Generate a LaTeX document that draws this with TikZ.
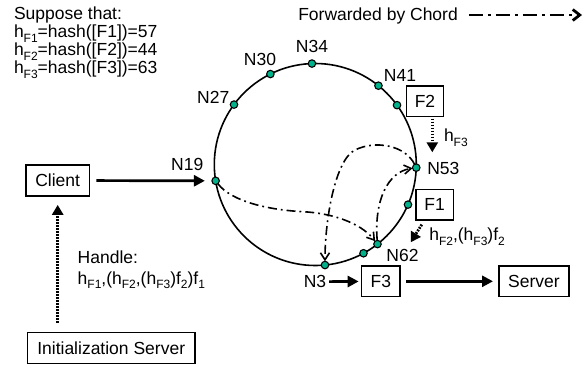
\documentclass[tikz,border=0pt]{standalone}
\usepackage{fontspec}
\setmainfont{Liberation Sans}
\usetikzlibrary{arrows.meta,calc}
\definecolor{nodegreen}{RGB}{0,178,140}
\newcommand\sbs[1]{\raisebox{-4.5pt}{\fontsize{12}{12}\selectfont #1}}
\begin{document}
\begin{tikzpicture}[x=1pt,y=-1pt,
  font=\fontsize{17.5}{21}\selectfont,
  box/.style={draw, line width=1.6pt, minimum height=30.7pt, inner sep=0pt, outer sep=0pt},
  ringdot/.style={circle, draw, fill=nodegreen, line width=1.1pt, minimum size=7.5pt, inner sep=0pt, outer sep=0pt},
  lbl/.style={inner sep=0pt, outer sep=0pt},
  chord/.style={line width=1.6pt, dash pattern=on 9pt off 4pt on 1.8pt off 4pt, -{Straight Barb[length=7pt,width=9pt]}},
  legendarrow/.style={line width=2.8pt, dash pattern=on 14pt off 5pt on 3pt off 5pt, -{Straight Barb[length=7pt,width=11pt]}},
  solidarrow/.style={line width=2.7pt, -{Triangle[length=11pt,width=11pt]}},
  dotarrow/.style={line width=2.8pt, dash pattern=on 1.8pt off 1.2pt, -{Triangle[length=10pt,width=11pt]}}]
\useasboundingbox (0,0) rectangle (587,365);

% ring
\coordinate (c) at (315.3,164.5);
\draw[line width=1.6pt] (c) circle[radius=101];

% chord forwarding (drawn under the dots)
\node[ringdot] (n34) at ($(c)+(-91.9:101)$) {};
\node[ringdot] (n30) at ($(c)+(-116.4:101)$) {};
\node[ringdot] (n27) at ($(c)+(-143.6:101)$) {};
\node[ringdot] (n41) at ($(c)+(-51.3:101)$) {};
\node[ringdot] (nf2) at ($(c)+(-36:101)$) {};
\node[ringdot] (n53) at ($(c)+(1.8:101)$) {};
\node[ringdot] (nf1) at ($(c)+(23.4:101)$) {};
\node[ringdot] (n62) at ($(c)+(52:101)$) {};
\node[ringdot] (nx)  at ($(c)+(61.5:101)$) {};
\node[ringdot] (n3)  at ($(c)+(84.5:101)$) {};
\node[ringdot] (n19) at ($(c)+(170.7:101)$) {};

% ring labels
\node[lbl] (l34) at (312,46.7) {N34};
\node[lbl] (l30) at (260,59.3) {N30};
\node[lbl] (l27) at (213.3,97) {N27};
\node[lbl] (l41) at (400,75) {N41};
\node[lbl] (l19) at (187.3,164) {N19};
\node[lbl] (l53) at (443.3,168.3) {N53};
\node[lbl] (l62) at (402.5,255) {N62};
\node[lbl] (l3)  at (315,281.7) {N3};

% boxes
\node[box, minimum width=63.3pt] (client) at (57.7,180.5) {Client};
\node[box, minimum width=167.7pt] (init) at (111.2,348) {Initialization Server};
\node[box, minimum width=36.7pt] (f2) at (425,101.3) {F2};
\node[box, minimum width=37.3pt] (f1) at (434.7,204.7) {F1};
\node[box, minimum width=38.3pt] (f3) at (380.8,281.3) {F3};
\node[box, minimum width=70pt] (server) at (534,281.3) {Server};

% texts
\node[lbl, anchor=base west] (sup0) at (14,19.5) {Suppose that:};
\node[lbl, anchor=base west] (sup1) at (14,37.5) {h\sbs{F1}=hash([F1])=57};
\node[lbl, anchor=base west] (sup2) at (14,55.5) {h\sbs{F2}=hash([F2])=44};
\node[lbl, anchor=base west] (sup3) at (14,73.5) {h\sbs{F3}=hash([F3])=63};
\node[lbl, anchor=base west] (hand0) at (77.7,263.3) {Handle:};
\node[lbl, anchor=base west] (hand1) at (77.7,284) {h\sbs{F1},(h\sbs{F2},(h\sbs{F3})f\sbs{2})f\sbs{1}};
\node[lbl, anchor=base west] (hf3) at (444,141.5) {h\sbs{F3}};
\node[lbl, anchor=base west] (hf2) at (429.3,240.5) {h\sbs{F2},(h\sbs{F3})f\sbs{2}};

% legend
\node[lbl, anchor=base west] (legtext) at (298.3,20) {Forwarded by Chord};
\coordinate (legtip) at (582,15);
\draw[legendarrow] (legtext.east |- legtip) ++(11,0) -- (legtip);

% solid arrows
\draw[solidarrow, shorten <=7pt, shorten >=7pt] (client) -- (n19);
\draw[solidarrow, shorten <=3pt, shorten >=3pt] (l3) -- (f3);
\draw[solidarrow, shorten <=6.5pt, shorten >=6pt] (f3) -- (server);

% dotted arrows
\draw[dotarrow, shorten <=9.5pt, shorten >=9pt] (client.south |- init.north) -- (client.south);
\coordinate (f2tip) at (432.3,152.3);
\draw[dotarrow, shorten <=2pt] (f2.south -| f2tip) -- (f2tip);
\coordinate (f1tip) at (410.7,242.3);
\draw[dotarrow] ([xshift=5.7pt,yshift=-4.5pt]f1.south west) -- (f1tip);

% chord forwarding
\draw[chord] (n19) .. controls (232,202) and (270,210) .. (303,211.7)
  .. controls (330,213) and (360,222) .. (n62);
\draw[chord] (n62) .. controls (374,200) and (388,172) .. (n53);
\draw[chord] (n53) .. controls (405,145) and (375,140) .. (355,150)
  .. controls (335,160) and (325,220) .. (n3);
\end{tikzpicture}
\end{document}
